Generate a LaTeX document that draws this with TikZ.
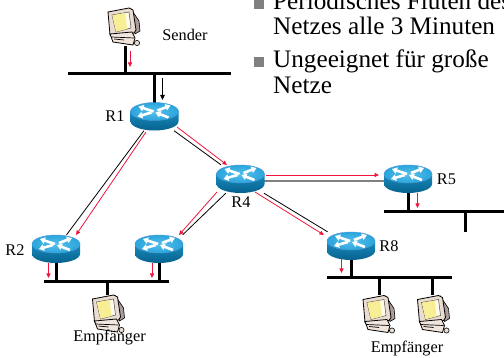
\documentclass[tikz,border=0pt]{standalone}
\usepackage{fontspec}
\setmainfont{Liberation Serif}
\usetikzlibrary{arrows.meta}
\definecolor{flowred}{HTML}{F0143C}
\definecolor{rtop}{HTML}{2AA5DC}
\definecolor{rtopin}{HTML}{58BFEA}
\definecolor{rsideA}{HTML}{1A8CBC}
\definecolor{rsideB}{HTML}{06618E}
\definecolor{bulletgray}{HTML}{808080}
\definecolor{monbeige}{HTML}{EADCD0}
\definecolor{monside}{HTML}{A89C9C}
\definecolor{monscreen}{HTML}{F8EE96}
\tikzset{
  x=1pt,y=-1pt,
  anchorbox/.style={inner sep=0pt,minimum width=47pt,minimum height=28pt},
  compbox/.style={inner sep=0pt,minimum width=32pt,minimum height=38pt},
  busline/.style={line width=3pt,black},
  stubline/.style={line width=3pt,black},
  linkline/.style={line width=0.8pt,black},
  graylink/.style={line width=1.3pt,black!50},
  flowarrow/.style={line width=0.8pt,flowred,-{Triangle[length=4.5pt,width=4pt]}},
  blackarrow/.style={line width=0.8pt,black,-{Triangle[length=5pt,width=4.5pt]}},
  label/.style={font=\fontsize{16.3}{16.3}\selectfont,inner sep=0pt},
  slide/.style={font=\fontsize{25.2}{25.2}\selectfont,inner sep=0pt,anchor=base west},
  bulletsq/.style={fill=bulletgray,draw=none},
  router/.pic={
    \path[top color=rsideA,bottom color=rsideB]
      (-24,-5) -- (-24,5) .. controls (-24,10) and (-13,14) .. (0,14)
      .. controls (13,14) and (24,10) .. (24,5) -- (24,-5) -- cycle;
    \path[inner color=rtopin,outer color=rtop,draw=cyan!60!blue!70,line width=0.4pt]
      (0,-5) circle[x radius=24pt,y radius=9pt];
    \foreach \xa/\ya/\xb/\yb in {-1/-5/-16/-10, 3/-6/16/-11, -3/-4/-17/0, 14/1/1/-4}{
      \draw[white,line width=2.6pt,-{Triangle[length=5pt,width=6.5pt]}] (\xa,\ya) -- (\xb,\yb);
    }
  },
  computer/.pic={
    \begin{scope}[shift={(-16,-19)}]
    \path[fill=monside,draw=black,line width=0.6pt] (23,1) -- (31,13) -- (32,23) -- (27,26) -- cycle;
    \path[fill=monbeige,draw=black,line width=0.8pt] (0,4) -- (21,0) -- (25,2) -- (28,22) -- (26,25) -- (6,29) -- (2,27) -- cycle;
    \path[left color=monscreen,right color=white,draw=black!70,line width=0.5pt] (4,7) -- (21,4) -- (23,20) -- (8,24) -- cycle;
    \path[fill=monscreen] (4.3,7.3) -- (17,5) -- (19,21) -- (8,23.7) -- cycle;
    \path[fill=monbeige!70!white,draw=black,line width=0.8pt] (2,26) -- (24,24) -- (27,30) -- (25,37) -- (5,34) -- cycle;
    \draw[black,line width=0.7pt] (3,29) -- (26,30) (6,31) -- (16,32);
    \path[fill=monbeige,draw=black,line width=0.6pt] (29,35) circle[radius=2.6pt];
    \end{scope}
  }
}
\newcommand{\flow}[4][flowarrow]{%
  \coordinate (#2s) at (#3); \coordinate (#2e) at (#4);
  \draw[#1] (#2s) -- (#2e);}
\begin{document}
\begin{tikzpicture}
\useasboundingbox (0,0) rectangle (504,358);
\clip (0,0) rectangle (504,358);
% anchors
\node[anchorbox] (R1) at (154.5,116.5) {};
\node[anchorbox] (R2) at (56,249) {};
\node[anchorbox] (R3) at (159,249) {};
\node[anchorbox] (R4) at (240.5,179) {};
\node[anchorbox] (R5) at (408,179) {};
\node[anchorbox] (R8) at (351,246) {};
\node[compbox] (PCs) at (124,27) {};
\node[compbox] (PCa) at (108.5,314) {};
\node[compbox] (PCb) at (379,314.5) {};
\node[compbox] (PCc) at (433.5,314.5) {};
% bus end points and junctions
\coordinate (bsl) at (68,74); \coordinate (bsr) at (231,74);
\coordinate (bas) at (125,74); \coordinate (bar) at (154.5,74);
\coordinate (b2l) at (44,282); \coordinate (b2r) at (169,282);
\coordinate (b2a) at (56,282); \coordinate (b2b) at (159,282); \coordinate (b2c) at (107.5,282);
\coordinate (b5l) at (384,212); \coordinate (b5r) at (504,212);
\coordinate (b5a) at (408,212); \coordinate (b5b) at (465.5,212); \coordinate (b5e) at (465.5,232);
\coordinate (b8l) at (327,278); \coordinate (b8r) at (452,278);
\coordinate (b8a) at (351,278); \coordinate (b8b) at (379,278); \coordinate (b8c) at (432,278);
% buses
\draw[busline] (bsl) -- (bsr);
\draw[busline] (b2l) -- (b2r);
\draw[busline] (b5l) -- (b5r);
\draw[busline] (b8l) -- (b8r);
% stubs
\draw[stubline] (bas) -- (PCs.south -| bas);
\draw[stubline] (bar) -- (R1.center);
\draw[stubline] (R2.center) -- (b2a);
\draw[stubline] (R3.center) -- (b2b);
\draw[stubline] (b2c) -- (PCa.north -| b2c);
\draw[stubline] (R5.center) -- (b5a);
\draw[stubline] (b5b) -- (b5e);
\draw[stubline] (R8.center) -- (b8a);
\draw[stubline] (b8b) -- (PCb.north -| b8b);
\draw[stubline] (b8c) -- (PCc.north -| b8c);
% links between routers
\draw[linkline] (R1) -- (R2);
\draw[linkline] (R1) -- (R4);
\draw[linkline] (R4) -- (R3.north east);
\draw[linkline] (R4) -- (R8);
\draw[graylink] (R4.center |- 0,181) -- (R5.center |- 0,181);
% routers and computers
\foreach \r in {R1,R2,R3,R4,R5,R8}{ \pic at (\r) {router}; }
\foreach \c in {PCs,PCa,PCb,PCc}{ \pic at (\c) {computer}; }
% flow arrows
\flow{f1}{130,51}{130,67}
\flow[blackarrow]{f2}{162.5,78}{162.5,100}
\flow{f3}{146,132}{76,235}
\flow{f4}{177,127}{227,165}
\flow{f5}{217,192}{179,235}
\flow{f6}{266,175}{379,175}
\flow{f7}{255,192}{324,235}
\flow{f8}{48.5,263}{48.5,278}
\flow{f9}{152,263}{152,278}
\flow{f10}{417.5,193}{417.5,208}
\flow{f11}{341.5,258}{341.5,273}
% labels
\node[label] (lS) at (185,35) {Sender};
\node[label] (l1) at (115,116) {R1};
\node[label] (l2) at (15,250) {R2};
\node[label] (l4) at (241,202) {R4};
\node[label] (l5) at (446.5,179) {R5};
\node[label] (l8) at (389,246) {R8};
\node[label] (e1) at (109.5,338) {Empfänger};
\node[label] (e2) at (407,349) {Empfänger};
% slide text
\path[bulletsq] (253.5,-1) rectangle (264,9);
\path[bulletsq] (253.5,57) rectangle (264,67);
\node[slide] (t1) at (273,9.5) {Periodisches Fluten des};
\node[slide] (t2) at (273,35) {Netzes alle 3 Minuten};
\node[slide] (t3) at (273,68) {Ungeeignet für große};
\node[slide] (t4) at (273,93.5) {Netze};
\end{tikzpicture}
\end{document}
